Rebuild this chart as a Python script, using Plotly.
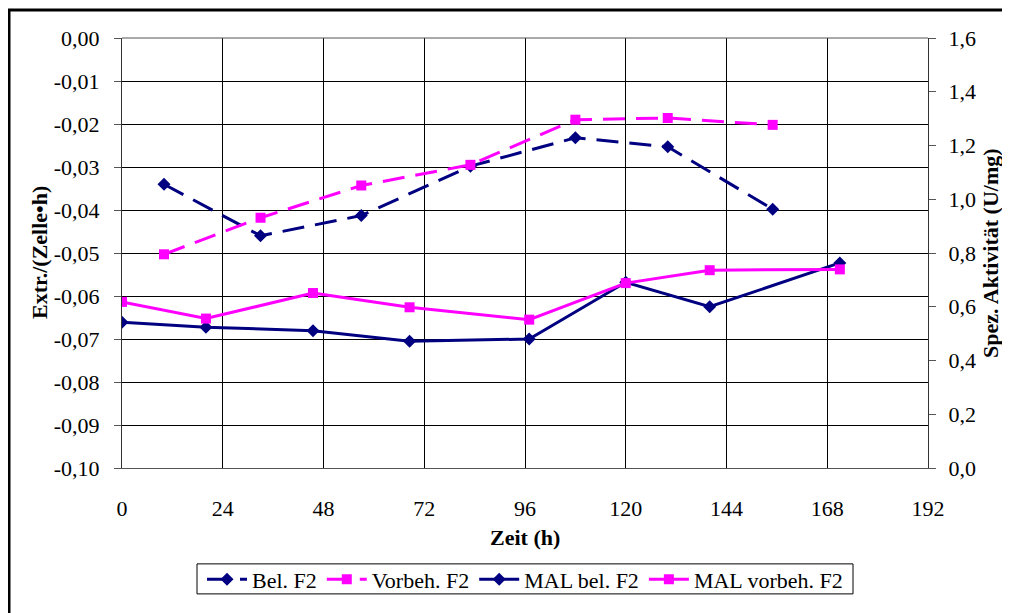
import plotly.graph_objects as go

# ---- data ----
t_f2 = [10, 33, 57, 83, 108, 130, 155]
bel_f2 = [-0.0340, -0.0460, -0.0413, -0.0298, -0.0232, -0.0253, -0.0398]
vorbeh_f2 = [-0.0503, -0.0418, -0.0343, -0.0295, -0.0190, -0.0186, -0.0202]

t_mal = [0, 20, 45.5, 68.5, 97, 120, 140, 171]
mal_bel_f2 = [0.542, 0.524, 0.511, 0.472, 0.480, 0.691, 0.600, 0.763]
mal_vorbeh_f2 = [0.618, 0.556, 0.651, 0.598, 0.552, 0.688, 0.736, 0.739]

x_ticks = [0, 24, 48, 72, 96, 120, 144, 168, 192]
y_left_ticks = [0.00, -0.01, -0.02, -0.03, -0.04, -0.05, -0.06, -0.07, -0.08, -0.09, -0.10]
y_left_text = ["0,00", "-0,01", "-0,02", "-0,03", "-0,04", "-0,05", "-0,06", "-0,07", "-0,08", "-0,09", "-0,10"]
y_right_ticks = [0.0, 0.2, 0.4, 0.6, 0.8, 1.0, 1.2, 1.4, 1.6]
y_right_text = ["0,0", "0,2", "0,4", "0,6", "0,8", "1,0", "1,2", "1,4", "1,6"]

x_title = "Zeit (h)"
y_left_title = "Extr./(Zelle•h)"
y_right_title = "Spez. Aktivität (U/mg)"

NAVY = "#000080"
MAGENTA = "#FF00FF"
FONT = "Liberation Serif"
FS = 22
DASH = "22px,11px"

fig = go.Figure()
fig.add_trace(go.Scatter(x=t_f2, y=bel_f2, name="Bel. F2", mode="lines+markers",
                         line=dict(color=NAVY, width=3, dash=DASH),
                         marker=dict(symbol="diamond", size=10, color=NAVY)))
fig.add_trace(go.Scatter(x=t_f2, y=vorbeh_f2, name="Vorbeh. F2", mode="lines+markers",
                         line=dict(color=MAGENTA, width=3, dash=DASH),
                         marker=dict(symbol="square", size=10, color=MAGENTA)))
fig.add_trace(go.Scatter(x=t_mal, y=mal_bel_f2, name="MAL bel. F2", mode="lines+markers",
                         yaxis="y2",
                         line=dict(color=NAVY, width=3),
                         marker=dict(symbol="diamond", size=10, color=NAVY)))
fig.add_trace(go.Scatter(x=t_mal, y=mal_vorbeh_f2, name="MAL vorbeh. F2", mode="lines+markers",
                         yaxis="y2",
                         line=dict(color=MAGENTA, width=3),
                         marker=dict(symbol="square", size=10, color=MAGENTA)))

# the page body has an 8px margin, so the figure starts at (8, 8) of the window
OFF = 8
W, H = 1010 - OFF, 613 - OFF
# plot area in window pixels
L, R, T, B = 122 - OFF, 928 - OFF, 38 - OFF, 482 - OFF


def px(x):
    """window x pixel -> paper x"""
    return (x - OFF - L) / (R - L)


def py(y):
    """window y pixel -> paper y"""
    return (B - (y - OFF)) / (B - T)


title_font = dict(family=FONT, size=FS, color="black")

fig.update_layout(
    width=W, height=H,
    margin=dict(l=L, r=W - R, t=T, b=H - B),
    paper_bgcolor="white", plot_bgcolor="white",
    font=dict(family=FONT, size=FS, color="black"),
    showlegend=True,
    legend=dict(orientation="h", x=px(525), xanchor="center", y=py(597), yanchor="middle",
                borderwidth=0, bgcolor="rgba(0,0,0,0)",
                font=dict(family=FONT, size=FS), itemwidth=40,
                tracegroupgap=0),
    xaxis=dict(range=[0, 192], tickvals=x_ticks, ticktext=[str(v) for v in x_ticks],
               showgrid=True, gridcolor="black", gridwidth=1,
               showline=True, linecolor="#555", linewidth=1, mirror=False,
               ticks="outside", ticklen=21, tickcolor="rgba(0,0,0,0)",
               zeroline=False),
    yaxis=dict(range=[-0.10, 0.0], tickvals=y_left_ticks, ticktext=y_left_text,
               showgrid=True, gridcolor="black", gridwidth=1,
               showline=True, linecolor="#333", linewidth=1,
               ticks="outside", ticklen=7, tickcolor="#555",
               ticklabelstandoff=10, zeroline=False),
    yaxis2=dict(range=[0.0, 1.6], tickvals=y_right_ticks, ticktext=y_right_text,
                overlaying="y", side="right", anchor="x",
                showgrid=False, showline=True, linecolor="#333", linewidth=1,
                ticks="outside", ticklen=7, tickcolor="#555",
                ticklabelstandoff=8, zeroline=False),
    yaxis3=dict(range=[0.0, 1.6], tickvals=y_right_ticks, overlaying="y", side="right",
                anchor="x", showgrid=False, showline=False, showticklabels=False,
                ticks="inside", ticklen=6, tickcolor="#555", zeroline=False),
    annotations=[
        dict(text="<b>" + x_title + "</b>", xref="paper", yref="paper",
             x=px(525), y=py(554), xanchor="center", yanchor="middle",
             showarrow=False, font=title_font),
        dict(text="<b>" + y_left_title + "</b>", xref="paper", yref="paper",
             x=px(39), y=0.5, xanchor="center", yanchor="middle", textangle=-90,
             showarrow=False, font=title_font),
        dict(text="<b>" + y_right_title + "</b>", xref="paper", yref="paper",
             x=px(990), y=0.5, xanchor="center", yanchor="middle", textangle=-90,
             showarrow=False, font=title_font),
    ],
    shapes=[
        dict(type="line", xref="paper", yref="paper", x0=0, x1=1, y0=1, y1=1,
             line=dict(color="#555", width=1)),
        dict(type="rect", xref="paper", yref="paper",
             x0=px(197), x1=px(853), y0=py(581), y1=py(612),
             line=dict(color="black", width=1), fillcolor="rgba(0,0,0,0)", layer="above"),
        dict(type="rect", xref="paper", yref="paper",
             x0=px(9), x1=px(1040), y0=py(9), y1=py(650),
             line=dict(color="black", width=3), fillcolor="rgba(0,0,0,0)", layer="above"),
    ],
)

fig.write_html("out.html")
